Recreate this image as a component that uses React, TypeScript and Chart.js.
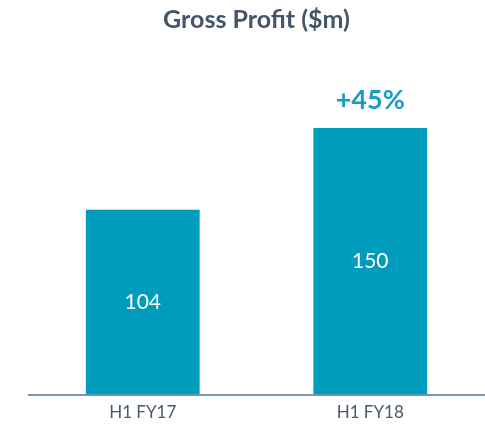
import React, { useEffect, useRef } from "react";
import { Chart, registerables } from "chart.js";

Chart.register(...registerables);

const categories = ["H1 FY17", "H1 FY18"];
const grossProfit = [104, 150];
const growthLabel = "+45%";
const growthIndex = 1;
const titleText = "Gross Profit ($m)";

const FONT = "Lato, 'Open Sans', sans-serif";

const labelPlugin = {
  id: "barLabels",
  afterDatasetsDraw(chart: any) {
    const { ctx } = chart;
    const meta = chart.getDatasetMeta(0);
    ctx.save();
    ctx.textAlign = "center";
    ctx.textBaseline = "middle";
    meta.data.forEach((bar: any, i: number) => {
      const v = grossProfit[i];
      ctx.fillStyle = "#ffffff";
      ctx.font = `21px ${FONT}`;
      ctx.fillText(String(v), bar.x, (bar.y + bar.base) / 2);
      if (i === growthIndex) {
        ctx.fillStyle = "#1a9cc3";
        ctx.font = `bold 27px ${FONT}`;
        ctx.fillText(growthLabel, bar.x, bar.y - 28);
      }
    });
    ctx.restore();
  },
};

export default function App() {
  const ref = useRef<HTMLCanvasElement>(null);
  useEffect(() => {
    document.body.style.margin = "0";
    const chart = new Chart(ref.current!, {
      type: "bar",
      data: {
        labels: categories,
        datasets: [
          {
            data: grossProfit,
            backgroundColor: "#009cbe",
            barPercentage: 0.5,
            categoryPercentage: 1,
          },
        ],
      },
      options: {
        animation: false,
        responsive: false,
        layout: { padding: { left: 29, right: 1, bottom: 2, top: 0 } },
        plugins: {
          legend: { display: false },
          tooltip: { enabled: false },
          title: {
            display: true,
            text: titleText,
            color: "#44546a",
            font: { family: FONT, size: 25, weight: "bold" },
            padding: { top: 5, bottom: 4 },
          },
        },
        scales: {
          x: {
            grid: { display: false, drawTicks: false, tickLength: 0 },
            border: { display: true, color: "#7a96b4", width: 2 },
            ticks: {
              color: "#4a5a6e",
              font: { family: FONT, size: 17 },
              padding: 8,
            },
          },
          y: {
            display: false,
            min: 0,
            max: 200,
          },
        },
      },
      plugins: [labelPlugin],
    });
    return () => chart.destroy();
  }, []);
  return (
    <div style={{ width: 485, height: 433 }}>
      <canvas ref={ref} width={485} height={433} />
    </div>
  );
}
